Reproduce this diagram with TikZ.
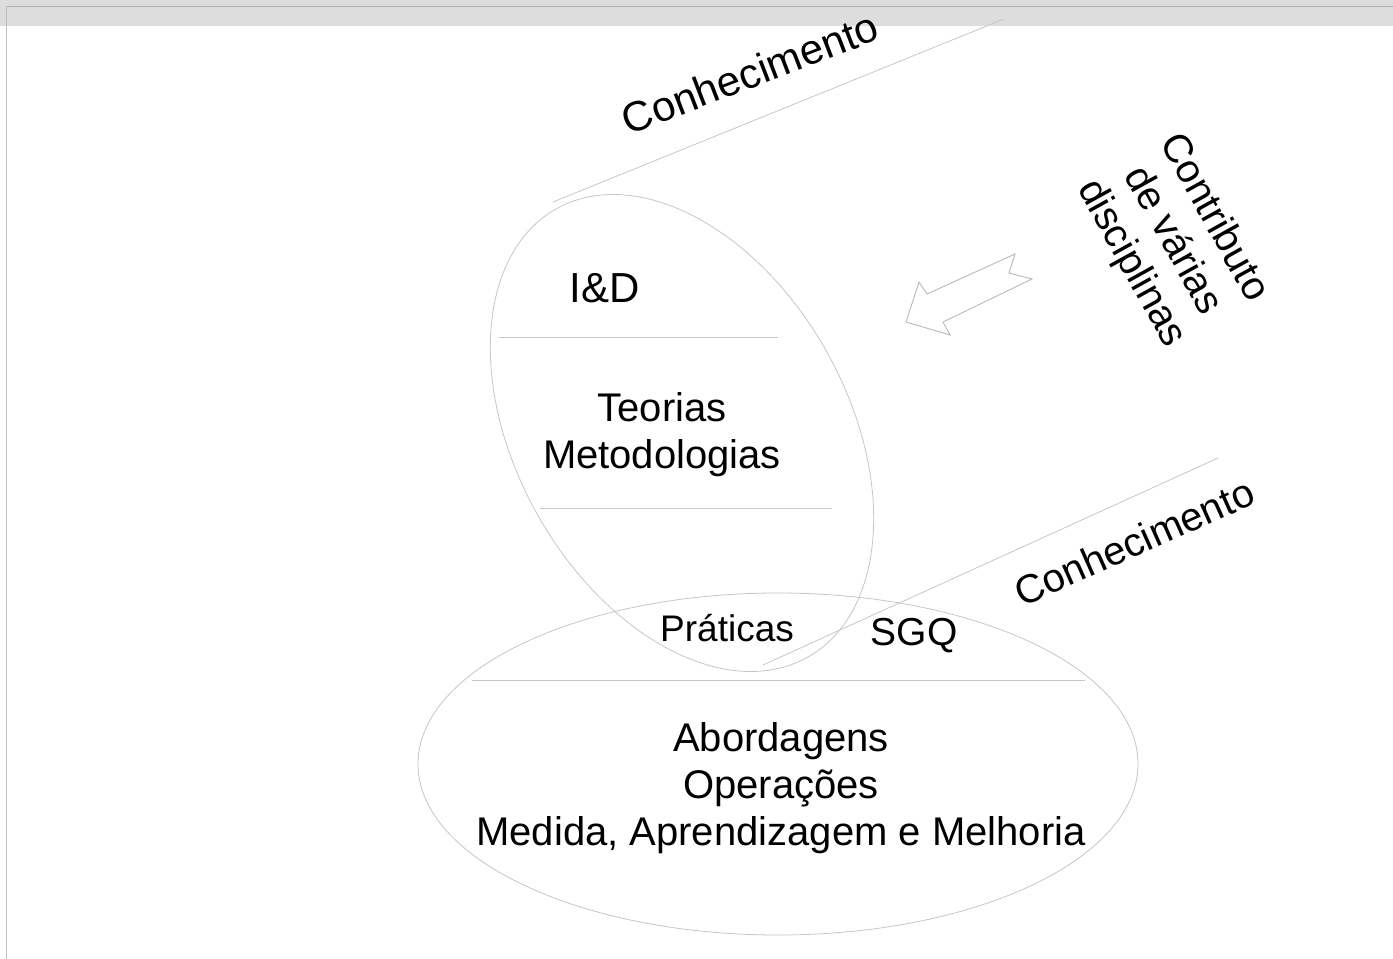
\documentclass[tikz,border=0pt]{standalone}
\usepackage{fontspec}
\setmainfont{Liberation Sans}
\begin{document}
\begin{tikzpicture}[x=1pt,y=-1pt,
  outline/.style={draw=gray!45,line width=0.8pt},
  label/.style={inner sep=0pt,font=\fontsize{40}{47}\selectfont,align=center},
  hollowarrow/.style={draw=gray!55,line width=0.9pt,line join=miter}]
\useasboundingbox (0,0) rectangle (1393,959);
% window frame
\fill[gray!27] (0,0) rectangle (1393,25.7);
\draw[gray!60,line width=0.8pt] (6,6) -- (1393,6);
\draw[gray!50,line width=0.8pt] (6,6) -- (6,959);

% upper (tilted) ellipse and its dividing lines
\draw[outline] (682,433) ellipse [x radius=257pt,y radius=166pt,rotate=-60.75];
\coordinate (r1a) at (499,337); \coordinate (r1b) at (778,337);
\coordinate (r2a) at (540,508); \coordinate (r2b) at (832,508);
\draw[outline] (r1a) -- (r1b);
\draw[outline] (r2a) -- (r2b);

% lower ellipse and its dividing line
\draw[outline] (778,764) ellipse [x radius=360pt,y radius=171pt];
\coordinate (r3a) at (472,680); \coordinate (r3b) at (1085,680);
\draw[outline] (r3a) -- (r3b);

% knowledge lines
\coordinate (k1a) at (553,202); \coordinate (k1b) at (1004,19);
\coordinate (k2a) at (763,665); \coordinate (k2b) at (1218,458);
\draw[outline] (k1a) -- (k1b);
\draw[outline] (k2a) -- (k2b);

% texts
\node[label,font=\fontsize{42}{48}\selectfont] (id) at (605,288) {I\&D};
\node[label] (teo) at (662,435) {Teorias\\Metodologias};
\node[label,font=\fontsize{37}{44}\selectfont] (prat) at (727,628) {Práticas};
\node[label,font=\fontsize{39}{46}\selectfont] (sgq) at (914,636) {SGQ};
\node[label] (abo) at (781,788) {Abordagens\\Operações\\Medida, Aprendizagem e Melhoria};
\node[label,font=\fontsize{42}{48}\selectfont,rotate=21] (con1) at (750,73) {Conhecimento};
\node[label,rotate=24] (con2) at (1134,542) {Conhecimento};
\node[label,rotate=-61] (contr) at (1172,241) {Contributo\\de várias\\disciplinas};

% hollow arrow pointing at the upper ellipse
\draw[hollowarrow] (906,322) -- (919,282) -- (927,294) -- (1015,254) -- (1009,273)
  -- (1032,279) -- (943,322) -- (950,335) -- cycle;
\end{tikzpicture}
\end{document}
